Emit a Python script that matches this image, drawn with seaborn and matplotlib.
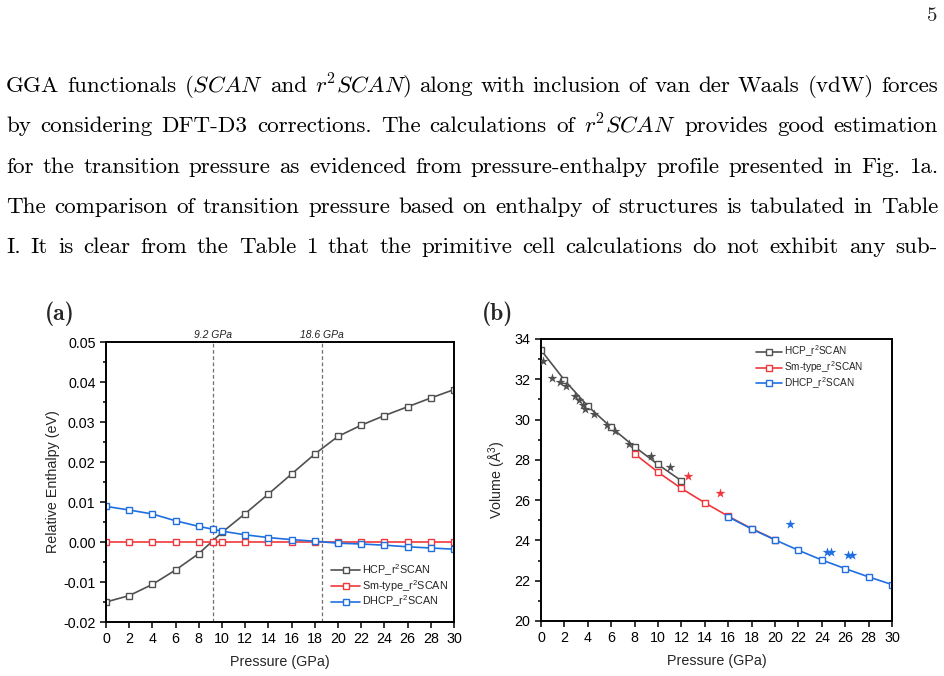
import matplotlib
matplotlib.use("Agg")
import matplotlib.pyplot as plt
import seaborn as sns
import numpy as np
from matplotlib.ticker import MultipleLocator, FuncFormatter

# ---------------- data ----------------
p_hcp_a = [0, 2, 4, 6, 8, 10, 12, 14, 16, 18, 20, 22, 24, 26, 28, 30]
h_hcp = [-0.0150, -0.0134, -0.0106, -0.0070, -0.0029, 0.0024, 0.0071, 0.0120,
         0.0170, 0.0220, 0.0264, 0.0292, 0.0316, 0.0338, 0.0360, 0.0381]
p_sm_a = [0, 2, 4, 6, 8, 9.2, 10, 12, 14, 16, 18, 20, 22, 24, 26, 28, 30]
h_sm = [0.0] * 17
p_dhcp_a = [0, 2, 4, 6, 8, 9.2, 10, 12, 14, 16, 18, 20, 22, 24, 26, 28, 30]
h_dhcp = [0.0089, 0.0080, 0.0070, 0.0053, 0.0039, 0.0032, 0.0027, 0.0018, 0.0011,
          0.0006, 0.0002, -0.0003, -0.0005, -0.0008, -0.0012, -0.0015, -0.0018]
transitions = [9.2, 18.6]
transition_labels = ["9.2 GPa", "18.6 GPa"]

p_hcp_b = [0, 2, 4, 6, 8, 10, 12]
v_hcp = [33.45, 31.96, 30.67, 29.61, 28.65, 27.77, 26.96]
p_sm_b = [8, 10, 12, 14, 16, 18, 20]
v_sm = [28.30, 27.39, 26.58, 25.87, 25.20, 24.59, 24.04]
p_dhcp_b = [16, 18, 20, 22, 24, 26, 28, 30]
v_dhcp = [25.17, 24.57, 24.03, 23.51, 23.03, 22.60, 22.19, 21.81]

exp_hcp_p = [0.17, 0.91, 1.6, 2.17, 2.94, 3.26, 3.6, 3.77, 4.51, 5.6, 6.29, 7.54, 9.37, 11.0]
exp_hcp_v = [32.91, 32.06, 31.88, 31.65, 31.18, 30.98, 30.74, 30.52, 30.29, 29.74, 29.44, 28.78, 28.18, 27.67]
exp_sm_p = [12.6, 15.29]
exp_sm_v = [27.19, 26.36]
exp_dhcp_p = [21.3, 24.45, 24.75, 26.25, 26.55]
exp_dhcp_v = [24.81, 23.43, 23.43, 23.30, 23.30]

labels = ["HCP_r$^2$SCAN", "Sm-type_r$^2$SCAN", "DHCP_r$^2$SCAN"]
colors = ["#505050", "#f0383c", "#1f6fe0"]

text_lines = [
    "GGA functionals ($SCAN$ and $r^2SCAN$) along with inclusion of van der Waals (vdW) forces",
    "by considering DFT-D3 corrections. The calculations of $r^2SCAN$ provides good estimation",
    "for the transition pressure as evidenced from pressure-enthalpy profile presented in Fig. 1a.",
    "The comparison of transition pressure based on enthalpy of structures is tabulated in Table",
    "I. It is clear from the Table 1 that the primitive cell calculations do not exhibit any sub-",
]

# ---------------- style ----------------
sns.set_theme(style="ticks")
plt.rcParams["font.family"] = ["Liberation Sans", "DejaVu Sans"]
plt.rcParams["mathtext.fontset"] = "custom"
plt.rcParams["mathtext.rm"] = "Liberation Sans"
plt.rcParams["mathtext.it"] = "Liberation Sans:italic"

W, H = 944, 676
fig = plt.figure(figsize=(W / 100, H / 100), dpi=100)
fig.patch.set_facecolor("white")

def px_axes(x0, y0, x1, y1):
    return fig.add_axes([x0 / W, 1 - y1 / H, (x1 - x0) / W, (y1 - y0) / H])

axa = px_axes(106, 342, 454, 622)
axb = px_axes(541, 339, 892, 621)

def style_axes(ax):
    for s in ax.spines.values():
        s.set_visible(True)
        s.set_linewidth(1.4)
        s.set_color("black")
    ax.tick_params(which="both", direction="out", top=False, right=False,
                   labelsize=10.3, colors="black", width=1.1)
    ax.tick_params(which="major", length=4)
    ax.tick_params(which="minor", length=2)
    ax.set_facecolor("white")
    ax.grid(False)

series_a = [(p_hcp_a, h_hcp), (p_sm_a, h_sm), (p_dhcp_a, h_dhcp)]
for (px, py), lab, c in zip(series_a, labels, colors):
    sns.lineplot(x=px, y=py, ax=axa, color=c, marker="s", markersize=4.6,
                 markerfacecolor="white", markeredgecolor=c, markeredgewidth=1.0,
                 linewidth=1.2, label=lab)
for t, tl in zip(transitions, transition_labels):
    axa.axvline(t, color="#707070", lw=0.9, ls=(0, (3, 2)), zorder=0)
    axa.text(t, 0.0505, tl, ha="center", va="bottom", fontsize=7.5,
             style="italic", color="#222222")
axa.set_xlim(0, 30)
axa.set_ylim(-0.02, 0.05)
axa.xaxis.set_major_locator(MultipleLocator(2))
axa.yaxis.set_major_locator(MultipleLocator(0.01))
axa.yaxis.set_minor_locator(MultipleLocator(0.005))
axa.yaxis.set_major_formatter(FuncFormatter(lambda v, p: f"{v:.2f}".replace("-0.00", "0.00")))
axa.set_xlabel("Pressure (GPa)", fontsize=10.3, labelpad=6)
axa.set_ylabel("Relative Enthalpy (eV)", fontsize=10.3, labelpad=2)
style_axes(axa)
axa.legend(loc="lower right", bbox_to_anchor=(0.995, 0.03), frameon=False, fontsize=7.8,
           handlelength=2.6, handletextpad=0.2, labelspacing=0.0, borderaxespad=0.0)

series_b = [(p_hcp_b, v_hcp), (p_sm_b, v_sm), (p_dhcp_b, v_dhcp)]
for (px, py), lab, c in zip(series_b, labels, colors):
    sns.lineplot(x=px, y=py, ax=axb, color=c, marker="s", markersize=4.6,
                 markerfacecolor="white", markeredgecolor=c, markeredgewidth=1.0,
                 linewidth=1.2, label=lab)
exp_sets = [(exp_hcp_p, exp_hcp_v), (exp_sm_p, exp_sm_v), (exp_dhcp_p, exp_dhcp_v)]
for (ex, ey), c in zip(exp_sets, colors):
    sns.scatterplot(x=ex, y=ey, ax=axb, color=c, marker="*", s=55, linewidth=0,
                    legend=False, zorder=3)
axb.set_xlim(0, 30)
axb.set_ylim(20, 34)
axb.xaxis.set_major_locator(MultipleLocator(2))
axb.yaxis.set_major_locator(MultipleLocator(2))
axb.yaxis.set_minor_locator(MultipleLocator(1))
axb.set_xlabel("Pressure (GPa)", fontsize=10.3, labelpad=6)
axb.set_ylabel("Volume (Å$^3$)", fontsize=10.3, labelpad=5)
style_axes(axb)
axb.legend(loc="upper right", bbox_to_anchor=(0.945, 1.015), frameon=False, fontsize=7.2,
           handlelength=2.6, handletextpad=0.2, labelspacing=0.0)

# panel labels
fig.text(45 / W, 1 - 314 / H, "(a)", family="cmb10", fontsize=17, va="center", ha="left")
fig.text(482 / W, 1 - 314 / H, "(b)", family="cmb10", fontsize=17, va="center", ha="left")

# ---------------- page text (justified) ----------------
plt.rcParams["mathtext.fontset"] = "cm"
fig.text(937 / W, 1 - 21 / H, "5", family="cmr10", fontsize=15, ha="right", va="baseline")

fig.canvas.draw()
renderer = fig.canvas.get_renderer()
x_left, x_right = 6, 938
baselines = [92, 132.5, 173, 213, 253]
for line, yb in zip(text_lines, baselines):
    words = line.split(" ")
    ts = [fig.text(0, 1 - yb / H, w, family="cmr10", fontsize=16.6,
                   ha="left", va="baseline", color="black") for w in words]
    widths = [t.get_window_extent(renderer).width for t in ts]
    gap = (x_right - x_left - sum(widths)) / (len(words) - 1)
    x = x_left
    for t, w in zip(ts, widths):
        t.set_x(x / W)
        x += w + gap

fig.savefig("out.png", dpi=100, facecolor="white")
